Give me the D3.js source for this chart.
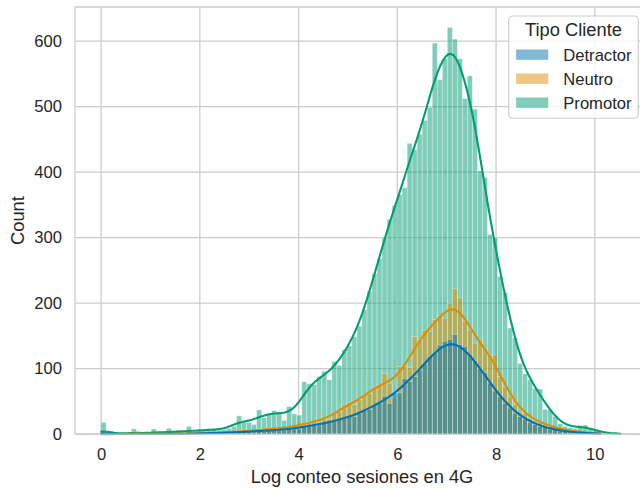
<!DOCTYPE html>
<html><head><meta charset="utf-8">
<script src="https://cdn.jsdelivr.net/npm/d3@7"></script>
<style>
html,body{margin:0;padding:0;background:#fff;overflow:hidden}
svg{display:block}
text{font-family:"Liberation Sans",Arial,sans-serif;fill:#262626}
</style></head><body>
<svg id="chart" width="640" height="489"></svg>
<script>
// ---- data ----
const seriesNames = ["Detractor", "Neutro", "Promotor"];
const seriesColors = ["#0173b2", "#de8f05", "#029e73"];
const legendTitle = "Tipo Cliente";
const xLabel = "Log conteo sesiones en 4G";
const yLabel = "Count";
const binStart = 0;
const binWidth = 0.10163;
const xTicks = [0, 2, 4, 6, 8, 10];
const yTicks = [0, 100, 200, 300, 400, 500, 600];

const detractor = [
  3,0,0,0,0,0,2,0,0,0,
  1,0,0,1,0,1,0,2,0,1,
  2,1,2,2,2,3,2,4,3,4,
  3,6,4,6,7,6,6,9,8,8,
  13,14,13,14,17,18,20,22,24,27,
  27,32,36,38,45,48,58,47,63,63,
  85,80,88,98,108,119,124,136,142,145,
  152,137,134,122,112,100,94,78,66,57,
  47,40,32,27,23,18,15,12,10,8,
  7,5,4,3,3,2,2,1,1,1,
  0,0,0,0
];
const neutro = [
  0,0,0,0,0,0,4,0,0,0,
  2,0,0,2,0,1,0,3,0,1,
  2,2,2,3,2,3,4,5,4,5,
  5,8,6,8,9,9,8,12,11,12,
  18,19,19,18,23,23,32,35,45,48,
  45,53,60,62,72,75,93,78,55,103,
  104,102,149,144,159,157,175,181,177,200,
  222,208,172,159,139,144,131,121,121,88,
  73,57,45,34,32,24,20,18,15,12,
  10,8,6,5,4,3,3,2,1,1,
  0,0,0,0
];
const promotor = [
  18,0,0,0,0,0,8,0,0,0,
  8,0,0,9,0,6,0,12,0,7,
  6,7,8,6,7,9,12,28,18,18,
  15,37,25,31,36,34,21,42,31,29,
  80,77,76,88,96,83,111,105,129,135,
  149,165,190,218,245,268,300,328,349,366,
  376,444,434,458,479,499,597,541,573,621,
  603,573,512,547,496,402,392,305,300,241,
  216,162,147,108,92,83,70,69,38,37,
  27,16,12,10,9,13,14,8,6,3,
  2,1,1,1
];
const seriesValues = [detractor, neutro, promotor];

(function () {
// ---- layout ----
const svg = d3.select("#chart");
const W = 640, H = 489;
const mL = 75, mR = 649, mT = 7, mB = 434.2;
svg.append("rect").attr("width", W).attr("height", H).attr("fill", "#fff");

const nBins = promotor.length;
const dataMax = binStart + nBins * binWidth;
const span = dataMax - binStart;
const x = d3.scaleLinear().domain([binStart - 0.05 * span, dataMax + 0.05 * span]).range([mL, mR]);
const maxCount = d3.max(seriesValues.flat());
const y = d3.scaleLinear().domain([0, maxCount * 1.05]).range([mB, mT]);

const gridColor = "#cccccc";
const grid = svg.append("g");
grid.selectAll("line.vx").data(xTicks).join("line").attr("class", "vx")
  .attr("x1", d => x(d)).attr("x2", d => x(d)).attr("y1", mT).attr("y2", mB)
  .attr("stroke", gridColor).attr("stroke-width", 1.3);
grid.selectAll("line.hy").data(yTicks).join("line").attr("class", "hy")
  .attr("x1", mL).attr("x2", mR).attr("y1", d => y(d)).attr("y2", d => y(d))
  .attr("stroke", gridColor).attr("stroke-width", 1.3);

// bars (reverse hue order like seaborn)
const barsG = svg.append("g");
for (let s = seriesValues.length - 1; s >= 0; s--) {
  const vals = seriesValues[s];
  const data = vals.map((c, i) => ({c, i})).filter(d => d.c > 0);
  barsG.append("g").selectAll("rect").data(data).join("rect")
    .attr("x", d => x(binStart + d.i * binWidth))
    .attr("width", d => x(binStart + (d.i + 1) * binWidth) - x(binStart + d.i * binWidth))
    .attr("y", d => y(d.c))
    .attr("height", d => y(0) - y(d.c))
    .attr("fill", seriesColors[s]).attr("fill-opacity", 0.5)
    .attr("stroke", "#fff").attr("stroke-opacity", 0.5).attr("stroke-width", 0.6);
}

// KDE lines from the binned counts (Scott bandwidth, cut=0)
function kdeCurve(vals) {
  const centers = vals.map((c, i) => binStart + (i + 0.5) * binWidth);
  const n = d3.sum(vals);
  const mean = d3.sum(vals.map((c, i) => c * centers[i])) / n;
  const variance = d3.sum(vals.map((c, i) => c * (centers[i] - mean) ** 2)) / (n - 1);
  const bw = Math.sqrt(variance) * Math.pow(n, -0.2);
  const nz = vals.map((c, i) => c > 0 ? i : -1).filter(i => i >= 0);
  const lo = binStart;
  const hi = centers[nz[nz.length - 1]];
  const pts = [];
  const G = 200;
  for (let k = 0; k < G; k++) {
    const xv = lo + (hi - lo) * k / (G - 1);
    let dens = 0;
    for (let i = 0; i < vals.length; i++) {
      if (!vals[i]) continue;
      const z = (xv - centers[i]) / bw;
      dens += vals[i] * Math.exp(-0.5 * z * z) / (bw * Math.sqrt(2 * Math.PI));
    }
    pts.push([xv, dens * binWidth]);
  }
  return pts;
}
const line = d3.line().x(d => x(d[0])).y(d => y(d[1]));
const kdeG = svg.append("g");
for (let s = seriesValues.length - 1; s >= 0; s--) {
  kdeG.append("path").attr("d", line(kdeCurve(seriesValues[s])))
    .attr("fill", "none").attr("stroke", seriesColors[s]).attr("stroke-width", 2.1)
    .attr("stroke-linejoin", "round").attr("stroke-linecap", "round");
}

// spines
const sp = svg.append("g").attr("stroke", gridColor).attr("stroke-width", 1.3);
sp.append("line").attr("x1", mL).attr("x2", mL).attr("y1", mT).attr("y2", mB);
sp.append("line").attr("x1", mL).attr("x2", mR).attr("y1", mT).attr("y2", mT);
sp.append("line").attr("x1", mL).attr("x2", mR).attr("y1", mB).attr("y2", mB);

// axes
const xAxis = svg.append("g").attr("transform", `translate(0,${mB})`)
  .call(d3.axisBottom(x).tickValues(xTicks).tickSize(0).tickPadding(14).tickFormat(d3.format("d")));
const yAxis = svg.append("g").attr("transform", `translate(${mL},0)`)
  .call(d3.axisLeft(y).tickValues(yTicks).tickSize(0).tickPadding(13).tickFormat(d3.format("d")));
[xAxis, yAxis].forEach(a => {
  a.select(".domain").remove();
  a.selectAll("text").attr("font-family", '"Liberation Sans",Arial,sans-serif')
    .attr("font-size", 16.6).attr("fill", "#262626");
});

svg.append("text").attr("x", (mL + mR) / 2).attr("y", 483)
  .attr("text-anchor", "middle").attr("font-size", 18.3).text(xLabel);
svg.append("text").attr("transform", `translate(24,${(mT + mB) / 2}) rotate(-90)`)
  .attr("text-anchor", "middle").attr("font-size", 18.3).text(yLabel);

// legend
const lg = svg.append("g");
lg.append("rect").attr("x", 508.7).attr("y", 16).attr("width", 129.6).attr("height", 102.3)
  .attr("rx", 4).attr("fill", "#fff").attr("fill-opacity", 0.8)
  .attr("stroke", "#cccccc").attr("stroke-width", 1.1);
lg.append("text").attr("x", 573.5).attr("y", 36).attr("text-anchor", "middle")
  .attr("font-size", 18.3).text(legendTitle);
seriesNames.forEach((name, i) => {
  lg.append("rect").attr("x", 516).attr("y", 49.3 + i * 24).attr("width", 32.3).attr("height", 10.7)
    .attr("fill", seriesColors[i]).attr("fill-opacity", 0.5)
    .attr("stroke", "#fff").attr("stroke-opacity", 0.5).attr("stroke-width", 0.6);
  lg.append("text").attr("x", 563.3).attr("y", 61 + i * 24).attr("font-size", 16.6).text(name);
});
})();
</script>
</body></html>
